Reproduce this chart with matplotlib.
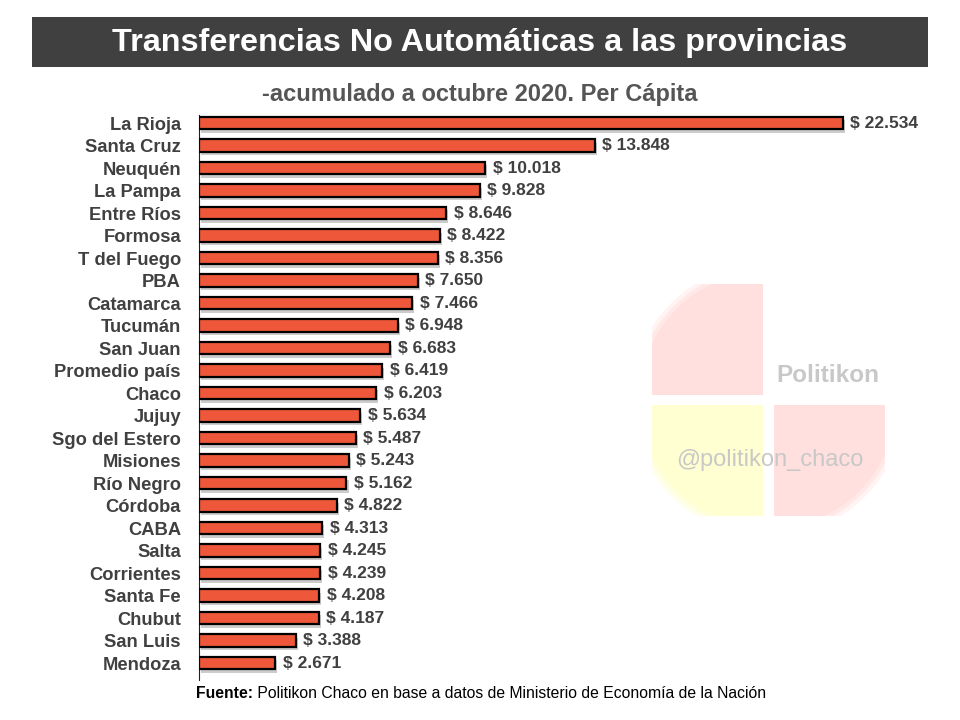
import matplotlib
matplotlib.use("Agg")
import matplotlib.pyplot as plt
import matplotlib.patheffects as pe
from matplotlib.patches import Rectangle, Circle

provincias = ["La Rioja", "Santa Cruz", "Neuquén", "La Pampa", "Entre Ríos", "Formosa",
              "T del Fuego", "PBA", "Catamarca", "Tucumán", "San Juan", "Promedio país",
              "Chaco", "Jujuy", "Sgo del Estero", "Misiones", "Río Negro", "Córdoba",
              "CABA", "Salta", "Corrientes", "Santa Fe", "Chubut", "San Luis", "Mendoza"]
valores = [22534, 13848, 10018, 9828, 8646, 8422, 8356, 7650, 7466, 6948, 6683, 6419,
           6203, 5634, 5487, 5243, 5162, 4822, 4313, 4245, 4239, 4208, 4187, 3388, 2671]

titulo = "Transferencias No Automáticas a las provincias"
subtitulo = "-acumulado a octubre 2020. Per Cápita"

plt.rcParams['font.family'] = ['Liberation Sans', 'DejaVu Sans']

fig = plt.figure(figsize=(9.6, 7.2), dpi=100)
W, H = 960, 720

# Title banner
fig.patches.append(Rectangle((32 / W, 1 - 67 / H), (928 - 32) / W, 50 / H,
                             transform=fig.transFigure, facecolor="#404040",
                             edgecolor="none", zorder=0))
fig.text(480 / W, 1 - 43 / H, titulo, color="white", fontsize=23.3, fontweight="bold",
         ha="center", va="center")
fig.text(480 / W, 1 - 95 / H, subtitulo, color="#555555", fontsize=17, fontweight="bold",
         ha="center", va="center")

# Watermark
wm = fig.add_axes([0, 0, 1, 1], zorder=0)
wm.set_xlim(0, W)
wm.set_ylim(H, 0)
wm.axis("off")
for rad, a in [(137, 0.35), (133, 0.55), (129, 1.0)]:
    clip = Circle((768, 400), rad, transform=wm.transData)
    for (x0, y0, c) in [(652, 284, "#FFE0DE"), (652, 405, "#FFFFD2"), (774, 405, "#FFE0DE")]:
        r = Rectangle((x0, y0), 111, 111, facecolor=c, edgecolor="none", alpha=a)
        wm.add_patch(r)
        r.set_clip_path(clip)
wm.text(828, 375, "Politikon", color="#C8C8C8", fontsize=17.5, fontweight="bold",
        ha="center", va="center")
wm.text(770, 460, "@politikon_chaco", color="#C8C8C8", fontsize=17,
        ha="center", va="center")

# Bar chart
ax = fig.add_axes([199 / W, 1 - 680 / H, 700 / W, 565 / H], zorder=1)
ax.patch.set_alpha(0)
y = list(range(len(provincias)))
bars = ax.barh(y, valores, height=0.55, color="#EE573A", edgecolor="black",
               linewidth=1.6, zorder=3)
for b in bars:
    b.set_path_effects([pe.SimplePatchShadow(offset=(1.5, -2.5), shadow_rgbFace="#9a9a9a",
                                             alpha=0.5), pe.Normal()])
ax.set_xlim(0, 24500)
ax.set_ylim(24.75, -0.36)
ax.set_yticks(y)
ax.set_yticklabels(provincias, fontsize=13.2, fontweight="bold", color="#404040")
ax.tick_params(axis="y", length=0, pad=13)
ax.set_xticks([])
for s in ["top", "right", "bottom"]:
    ax.spines[s].set_visible(False)
ax.spines["left"].set_color("#222222")
ax.spines["left"].set_linewidth(0.8)

for yi, v in zip(y, valores):
    txt = "$ " + f"{v:,}".replace(",", ".")
    ax.annotate(txt, (v, yi), xytext=(5.5, 0), textcoords="offset points",
                ha="left", va="center", fontsize=12.5, fontweight="bold", color="#404040")

# Footer
t1 = fig.text(196 / W, 1 - 693 / H, "Fuente:", fontsize=11.3, fontweight="bold",
              ha="left", va="center", color="black")
plt.annotate(" Politikon Chaco en base a datos de Ministerio de Economía de la Nación",
             xy=(1, 0.5), xycoords=t1, ha="left", va="center", fontsize=11.3,
             color="black", annotation_clip=False)

fig.savefig("out.png", dpi=100)
